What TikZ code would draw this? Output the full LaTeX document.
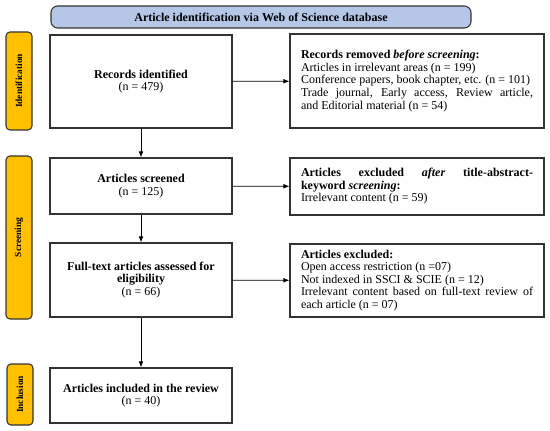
\documentclass[tikz,border=0pt]{standalone}
\usepackage{fontspec}
\setmainfont{Liberation Serif}
\usetikzlibrary{arrows.meta}

\definecolor{headblue}{HTML}{B4C7E7}
\definecolor{tabgold}{HTML}{FFC000}

\begin{document}
\begin{tikzpicture}[x=0.75pt, y=-0.75pt,
  box/.style={draw=black!80, line width=0.8pt, fill=white, font=\fontsize{9}{9.4}\selectfont},
  leftbox/.style={box, minimum width=182*0.75pt, inner sep=2pt, align=center},
  rightbox/.style={box, text width=174pt, inner xsep=8.25pt, inner ysep=2pt, align=justify},
  tabbox/.style={draw=black!80, line width=0.8pt, fill=tabgold, rounded corners=3pt,
    rotate=90, minimum height=26*0.75pt, inner sep=1pt, font=\fontsize{7}{8}\selectfont\bfseries},
  arr/.style={-{Latex[length=4.5pt,width=3.5pt]}, line width=0.6pt}]
\useasboundingbox (0,0) rectangle (550,431);

% Draw the header
  \node[draw=black!80, line width=0.8pt, fill=headblue, rounded corners=5pt,
    minimum width=420*0.75pt, minimum height=22*0.75pt,
    font=\fontsize{9}{9}\selectfont\bfseries] (head) at (261,17)
    {Article identification via Web of Science database};

% Draw the stage tabs
  \node[tabbox, minimum width=98*0.75pt] (tabid) at (19,81) {Identification};
  \node[tabbox, minimum width=163*0.75pt] (tabscr) at (19,237.5) {Screening};
  \node[tabbox, minimum width=61*0.75pt] (tabinc) at (20,394.5) {Inclusion};

% Draw the boxes on the left
  \node[leftbox, minimum height=93*0.75pt] (rec) at (141,81.5)
    {\textbf{Records identified}\\(n = 479)};
  \node[leftbox, minimum height=56*0.75pt] (scr) at (141,186)
    {\textbf{Articles screened}\\(n = 125)};
  \node[leftbox, minimum height=74*0.75pt] (full) at (141,280)
    {\textbf{Full-text articles assessed for}\\\textbf{eligibility}\\(n = 66)};
  \node[leftbox, minimum height=55*0.75pt] (inc) at (141,395.5)
    {\textbf{Articles included in the review}\\(n = 40)};

% Draw the boxes on the right
  \node[rightbox, minimum height=94*0.75pt] (rem) at (417,81)
    {\textbf{Records removed \textit{before screening}:}\\
     Articles in irrelevant areas (n = 199)\\
     Conference papers, book chapter, etc. (n = 101)\\
     Trade journal, Early access, Review article,\linebreak
     and Editorial material (n = 54)};
  \node[rightbox, minimum height=57*0.75pt] (exa) at (417,186.5)
    {\textbf{Articles excluded \textit{after} title-abstract-}\linebreak
     \textbf{keyword \textit{screening}:}\\
     Irrelevant content (n = 59)};
  \node[rightbox, minimum height=73*0.75pt] (exf) at (417,280.5)
    {\textbf{Articles excluded:}\\
     Open access restriction (n =07)\\
     Not indexed in SSCI \& SCIE (n = 12)\\
     Irrelevant content based on full-text review of\linebreak
     each article (n = 07)};

% Draw the arrows
  \draw[arr] (rec) -- (rem);
  \draw[arr] (scr) -- (exa);
  \draw[arr] (full) -- (exf);
  \draw[arr] (rec) -- (scr);
  \draw[arr] (scr) -- (full);
  \draw[arr] (full) -- (inc);

\end{tikzpicture}
\end{document}
